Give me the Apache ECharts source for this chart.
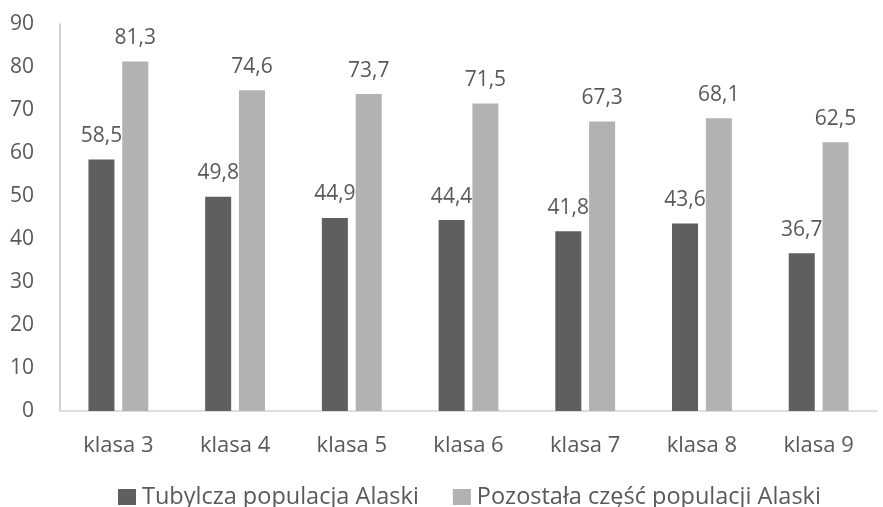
<!DOCTYPE html>
<html>
<head>
<meta charset="utf-8">
<script src="https://cdn.jsdelivr.net/npm/echarts@6/dist/echarts.min.js"></script>
<style>
  html, body { margin: 0; padding: 0; background: #fff; }
  #chart { width: 883px; height: 507px; }
</style>
</head>
<body>
<div id="chart"></div>
<script>
// Grade levels shown on the category axis
const categories = ['klasa 3', 'klasa 4', 'klasa 5', 'klasa 6', 'klasa 7', 'klasa 8', 'klasa 9'];
// Percent values per group
const nativeValues = [58.5, 49.8, 44.9, 44.4, 41.8, 43.6, 36.7];
const restValues = [81.3, 74.6, 73.7, 71.5, 67.3, 68.1, 62.5];
const seriesNames = ['Tubylcza populacja Alaski', 'Pozostała część populacji Alaski'];

const FONT = '"Open Sans", "Noto Sans", sans-serif';
const TEXT = '#595959';

const fmt = p => String(p.value).replace('.', ',');

const chart = echarts.init(document.getElementById('chart'));
chart.setOption({
  animation: false,
  grid: { left: 60, right: 6, top: 24, bottom: 96 },
  legend: {
    top: 480,
    left: 113,
    itemWidth: 18,
    itemHeight: 16,
    itemGap: 34,
    icon: 'rect',
    textStyle: { color: TEXT, fontSize: 23.5, fontFamily: FONT, padding: [0, 0, 0, 1] }
  },
  xAxis: {
    type: 'category',
    data: categories,
    axisLine: { lineStyle: { color: '#d4d4d4', width: 1.5 } },
    axisTick: { show: false },
    axisLabel: { color: TEXT, fontSize: 22, fontFamily: FONT, margin: 24 }
  },
  yAxis: {
    type: 'value',
    min: 0,
    max: 90,
    interval: 10,
    axisLine: { show: true, lineStyle: { color: '#c4c4c4', width: 1.5 } },
    axisTick: { show: false },
    splitLine: { show: false },
    axisLabel: { color: TEXT, fontSize: 21, fontFamily: FONT, margin: 26 }
  },
  series: [
    {
      name: seriesNames[0],
      type: 'bar',
      data: nativeValues,
      barWidth: 26,
      barGap: '30%',
      itemStyle: { color: '#5f5f5f' },
      label: { show: true, position: 'top', distance: 13, color: TEXT, fontSize: 21, fontFamily: FONT, formatter: fmt }
    },
    {
      name: seriesNames[1],
      type: 'bar',
      data: restValues,
      barWidth: 26,
      barGap: '30%',
      itemStyle: { color: '#b2b2b2' },
      label: { show: true, position: 'top', distance: 13, color: TEXT, fontSize: 21, fontFamily: FONT, formatter: fmt }
    }
  ]
});
</script>
</body>
</html>
